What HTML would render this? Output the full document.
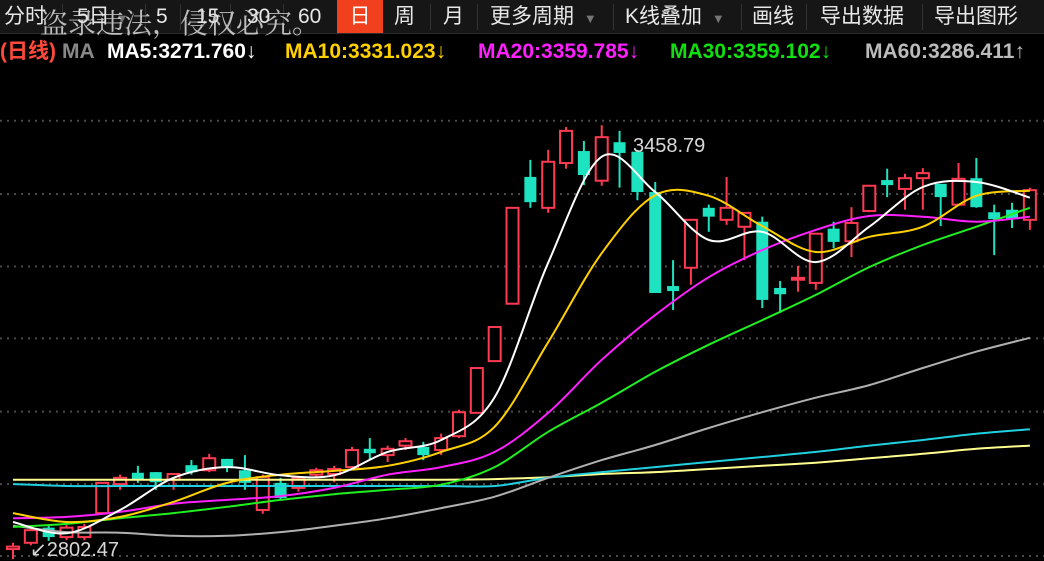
<!DOCTYPE html>
<html><head><meta charset="utf-8"><style>
html,body{margin:0;padding:0;background:#000;width:1044px;height:561px;overflow:hidden;font-family:"Liberation Sans","Noto Sans CJK SC",sans-serif}
#tb{position:absolute;left:0;top:0;width:1044px;height:33px;background:#161616;border-bottom:1px solid #2a2a2a}
.ti{position:absolute;top:0;height:33px;line-height:33px;color:#e8e8e8;font-size:21px;white-space:nowrap}
.sep{position:absolute;top:4px;width:1px;height:26px;background:#333}
.dd{color:#777;font-size:13px}
#wm{position:absolute;left:40px;top:2px;font-family:"Noto Serif CJK SC","Liberation Serif",serif;font-size:28px;color:rgba(220,220,220,0.85);white-space:nowrap}
#lg{position:absolute;left:0;top:38px;height:28px;line-height:28px;font-size:21px;font-weight:bold;white-space:nowrap}
#lg span{position:absolute;top:0}
svg{position:absolute;left:0;top:0}
</style></head><body>
<div id="tb">
<div class="ti" style="left:4px">分时</div>
<div class="sep" style="left:62px"></div>
<div class="ti" style="left:77px">5日 <span class="dd">▼</span></div>
<div class="sep" style="left:145px"></div>
<div class="ti" style="left:156px">5</div>
<div class="sep" style="left:180px"></div>
<div class="ti" style="left:196px">15</div>
<div class="sep" style="left:230px"></div>
<div class="ti" style="left:247px">30</div>
<div class="sep" style="left:283px"></div>
<div class="ti" style="left:298px">60</div>
<div class="ti" style="left:337px;width:46px;background:#f0401e;text-align:center;color:#fff">日</div>
<div class="ti" style="left:394px">周</div>
<div class="sep" style="left:430px"></div>
<div class="ti" style="left:443px">月</div>
<div class="sep" style="left:477px"></div>
<div class="ti" style="left:490px">更多周期 <span class="dd" style="margin-left:4px">▼</span></div>
<div class="sep" style="left:613px"></div>
<div class="ti" style="left:625px">K线叠加 <span class="dd" style="margin-left:4px">▼</span></div>
<div class="sep" style="left:741px"></div>
<div class="ti" style="left:752px">画线</div>
<div class="sep" style="left:806px"></div>
<div class="ti" style="left:820px">导出数据</div>
<div class="sep" style="left:922px"></div>
<div class="ti" style="left:934px">导出图形</div>
</div>
<div id="wm">盗录违法，侵权必究。</div>
<div id="lg">
<span style="left:0;color:#ff4a3a">(日线)</span>
<span style="left:62px;color:#888">MA</span>
<span style="left:107px;color:#fff">MA5:3271.760↓</span>
<span style="left:285px;color:#ffd000">MA10:3331.023↓</span>
<span style="left:478px;color:#ff20ff">MA20:3359.785↓</span>
<span style="left:670px;color:#10e010">MA30:3359.102↓</span>
<span style="left:865px;color:#bbb">MA60:3286.411↑</span>
</div>
<svg id="ch" width="1044" height="561"></svg>
<script>
const opens=[2796,2806,2830,2815,2815,2853,2899,2917,2918,2906,2929,2921,2939,2921,2858,2901,2893,2914,2915,2926,2955,2945,2960,2958,2953,2975,3012,3094,3185,3386,3337,3408,3427,3380,3441,3426,3362,3213,3242,3337,3318,3307,3315,3210,3223,3218,3304,3284,3332,3381,3367,3384,3375,3342,3384,3330,3334,3318];
const closes=[2800,2826,2815,2830,2831,2901,2909,2906,2902,2915,2918,2940,2926,2901,2910,2877,2909,2921,2923,2953,2948,2955,2967,2945,2972,3013,3083,3148,3337,3346,3410,3459,3389,3449,3424,3362,3202,3205,3318,3323,3337,3329,3191,3200,3226,3296,3283,3313,3372,3373,3384,3392,3354,3383,3338,3319,3319,3365];
const highs=[2806,2831,2834,2834,2836,2901,2914,2928,2918,2915,2937,2947,2939,2945,2914,2909,2912,2925,2928,2958,2972,2960,2972,2966,2979,3017,3084,3148,3338,3413,3429,3465,3443,3468,3459,3429,3378,3254,3318,3342,3386,3330,3323,3221,3245,3297,3315,3338,3373,3399,3391,3400,3375,3408,3416,3342,3345,3369];
const lows=[2780,2802,2809,2810,2810,2853,2890,2901,2890,2890,2914,2918,2918,2890,2852,2874,2887,2910,2902,2926,2937,2934,2953,2937,2945,2972,3011,3094,3184,3337,3329,3399,3373,3372,3369,3349,3202,3175,3215,3299,3310,3254,3178,3170,3204,3207,3273,3259,3330,3354,3334,3334,3308,3340,3337,3262,3305,3302];
const maIdx=[0,3,6,9,12,15,18,21,24,27,30,33,36,39,42,45,48,51,54,57];
const ma5=[2839,2821,2858,2909,2926,2913,2913,2950,2969,3037,3250,3418,3362,3286,3299,3251,3307,3370,3378,3353];
const ma10=[2853,2839,2847,2871,2901,2914,2920,2928,2950,2990,3124,3265,3357,3356,3308,3267,3291,3307,3356,3364];
const ma20=[2845,2847,2855,2868,2874,2880,2893,2914,2926,2950,3012,3096,3167,3227,3270,3302,3324,3323,3315,3323];
const ma30=[2831,2836,2845,2853,2863,2874,2883,2890,2898,2926,2982,3028,3077,3120,3159,3199,3243,3278,3307,3337];
const ma60=[2833,2823,2822,2817,2817,2823,2833,2845,2861,2879,2909,2937,2961,2988,3013,3036,3056,3083,3109,3131];
const ma120=[2899,2896,2896,2896,2896,2896,2896,2896,2896,2896,2909,2918,2926,2934,2942,2950,2960,2969,2979,2986];
const ma250=[2906,2906,2906,2906,2906,2906,2906,2906,2906,2907,2910,2915,2918,2923,2928,2933,2940,2947,2955,2960];
const gridLevels=[3475,3359,3244,3130,3014,2899,2785];

const NS='http://www.w3.org/2000/svg';
const svg=document.getElementById('ch');
const x=i=>13+17.84*i;
const y=p=>131+(3458.79-p)*0.6308;
function mk(t,a){const e=document.createElementNS(NS,t);for(const k in a)e.setAttribute(k,a[k]);svg.appendChild(e);return e;}
gridLevels.forEach(g=>{
  const l=mk('line',{x1:0,x2:1044,y1:y(g),y2:y(g),stroke:'#4a4a4a','stroke-width':2,'stroke-dasharray':'2 5'});
  
  
});
opens.forEach((o,i)=>{
  const c=closes[i],up=c>=o,col=up?'#ff3a52':'#1ee3c0';
  const cx=x(i),top=y(Math.max(o,c)),bot=y(Math.min(o,c));
  const w=mk('line',{x1:cx,x2:cx,y1:y(highs[i]),y2:y(lows[i]),stroke:col,'stroke-width':2});
  
  
  const r=mk('rect',{x:cx-6,y:top,width:12,height:Math.max(bot-top,1.5),fill:up?'#000':col,stroke:col,'stroke-width':up?2:0});
  
  
});
function line(arr,col,name,w){
  const P=arr.map((v,k)=>[x(maIdx[k]),y(v)]);
  let d='M'+P[0][0].toFixed(1)+','+P[0][1].toFixed(1);
  for(let k=0;k<P.length-1;k++){
    const p0=P[Math.max(k-1,0)],p1=P[k],p2=P[k+1],p3=P[Math.min(k+2,P.length-1)];
    const c1=[p1[0]+(p2[0]-p0[0])/6,p1[1]+(p2[1]-p0[1])/6];
    const c2=[p2[0]-(p3[0]-p1[0])/6,p2[1]-(p3[1]-p1[1])/6];
    d+=' C'+c1.map(v=>v.toFixed(1)).join(',')+' '+c2.map(v=>v.toFixed(1)).join(',')+' '+p2.map(v=>v.toFixed(1)).join(',');
  }
  const p=mk('path',{d:d,fill:'none',stroke:col,'stroke-width':w||2,'stroke-linejoin':'round'});
  
  
}
line(ma250,'#ffff90','ma250-line');
line(ma120,'#20d0e0','ma120-line');
line(ma60,'#b0b0b0','ma60-line');
line(ma30,'#20f020','ma30-line');
line(ma20,'#ff20ff','ma20-line');
line(ma10,'#ffd000','ma10-line');
line(ma5,'#ffffff','ma5-line');
const t1=mk('text',{x:633,y:152,fill:'#d8d8d8','font-size':20,'font-family':'Liberation Sans, sans-serif'});
t1.textContent='3458.79';


const t2=mk('text',{x:30,y:556,fill:'#d8d8d8','font-size':20,'font-family':'Liberation Sans, sans-serif'});
t2.textContent='↙2802.47';


</script>
</body></html>
